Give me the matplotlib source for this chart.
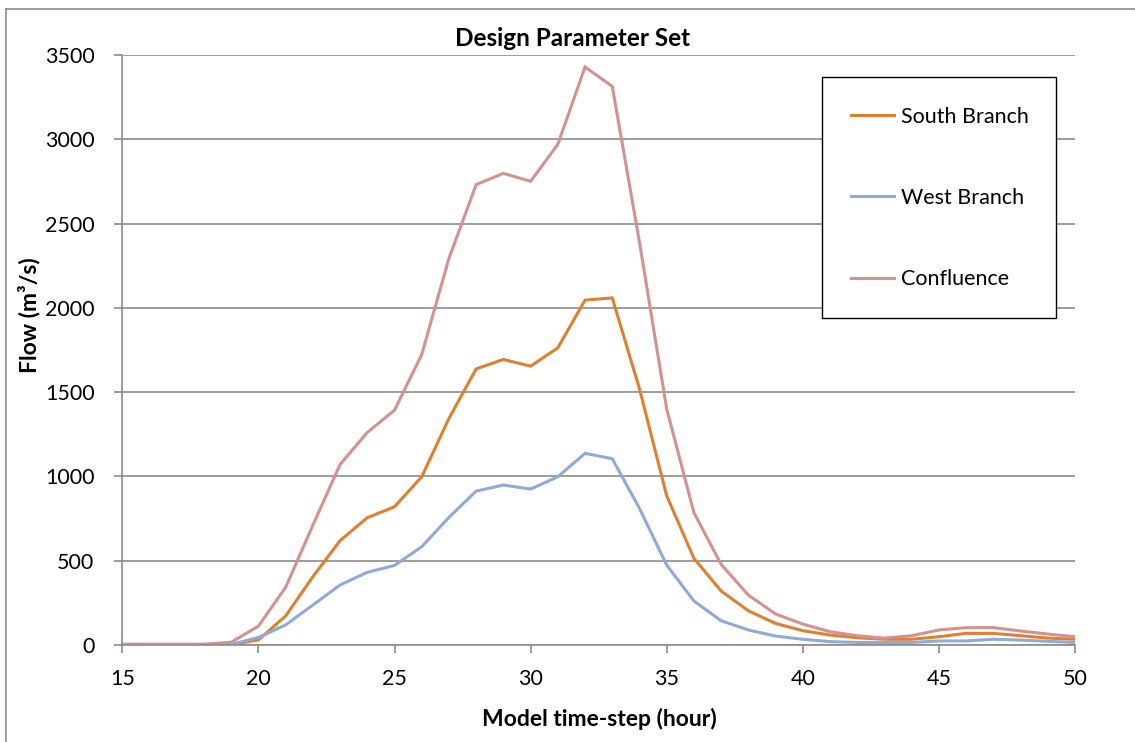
import numpy as np
import matplotlib.pyplot as plt
from matplotlib.lines import Line2D
from matplotlib.patches import Rectangle

plt.rcParams['font.family'] = ['Lato', 'DejaVu Sans']

# hourly model time-steps and flows (m3/s)
hours = list(range(15, 51))
south = [0, 0, 0, 0, 2, 30, 172, 405, 619, 755, 820, 998, 1344, 1638, 1694, 1654,
         1763, 2046, 2059, 1520, 885, 514, 320, 203, 128, 85, 59, 43, 34, 34,
         49, 69, 69, 55, 41, 34]
west = [0, 0, 0, 0, 3, 45, 119, 237, 356, 431, 472, 583, 757, 913, 949, 925,
        998, 1137, 1105, 810, 474, 261, 144, 89, 53, 34, 20, 15, 15, 15,
        24, 24, 34, 29, 22, 15]
confluence = [5, 5, 5, 5, 16, 112, 342, 710, 1071, 1261, 1393, 1723, 2294, 2731, 2798, 2751,
              2970, 3429, 3314, 2390, 1400, 785, 478, 296, 184, 124, 79, 55, 41, 55,
              89, 103, 103, 83, 65, 49]

series_names = ['South Branch', 'West Branch', 'Confluence']
series_colors = ['#E0802F', '#8FAAD6', '#D39290']

W, H = 1135, 742
fig = plt.figure(figsize=(W / 100, H / 100), dpi=100)
ax = fig.add_axes([122.3 / W, 1 - 645 / H, (1075 - 122.3) / W, (645 - 55) / H])

for vals, name, col in zip([south, west, confluence], series_names, series_colors):
    ax.plot(hours, vals, color=col, lw=2.2, label=name, solid_joinstyle='miter')

ax.set_xlim(15, 50)
ax.set_ylim(0, 3500)
ax.set_xticks(range(15, 51, 5))
ax.set_yticks(range(0, 3501, 500))
ax.grid(axis='y', color='#8c8c8c', lw=1.2)
ax.set_axisbelow(True)
for s in ['top', 'right']:
    ax.spines[s].set_visible(False)
for s in ['left', 'bottom']:
    ax.spines[s].set_color('#8c8c8c')
    ax.spines[s].set_linewidth(1.2)
ax.tick_params(axis='both', direction='out', length=6, width=1.2, color='#8c8c8c',
               labelsize=15.5, labelcolor='black')
ax.tick_params(axis='x', pad=11)
ax.tick_params(axis='y', pad=14)

fig.text(573 / W, 1 - 38 / H, 'Design Parameter Set', ha='center', va='center',
         fontsize=17.5, fontweight='bold')
fig.text(599 / W, 1 - 719 / H, 'Model time-step (hour)', ha='center', va='center',
         fontsize=16.5, fontweight='bold')
fig.text(29 / W, 1 - 315 / H, 'Flow (m\u00b3/s)', ha='center', va='center',
         fontsize=16.5, fontweight='bold', rotation=90)

# legend box drawn by hand, legend entries placed inside it
fig.add_artist(Rectangle((822 / W, 1 - 318 / H), (1056 - 822) / W, (318 - 77) / H,
                         transform=fig.transFigure, facecolor='white', edgecolor='black',
                         lw=1.0, zorder=4))
leg = fig.legend(loc='center', bbox_to_anchor=(940 / W, 1 - 198 / H), frameon=False,
                 fontsize=15.5, handlelength=2.0, handletextpad=0.3, labelspacing=2.85)
leg.set_zorder(6)

# chart area border
fig.add_artist(Line2D([6 / W, 6 / W], [0, 1 - 9 / H], transform=fig.transFigure,
                      color='#8c8c8c', lw=1.2))
fig.add_artist(Line2D([6 / W, 1], [1 - 9 / H, 1 - 9 / H], transform=fig.transFigure,
                      color='#8c8c8c', lw=1.2))

fig.savefig('out.png', dpi=100)
